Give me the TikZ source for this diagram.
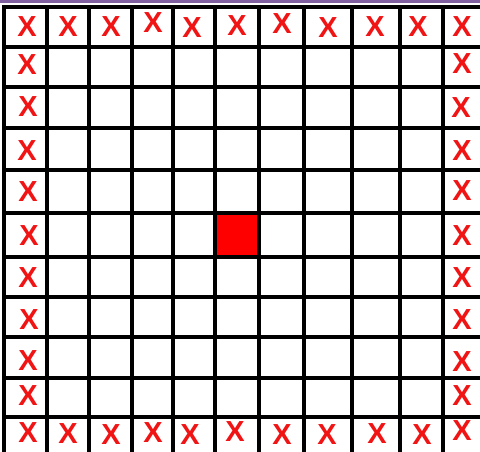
\documentclass[tikz,border=0pt]{standalone}
\usepackage{fontspec}
\setmainfont{Liberation Sans}
\definecolor{topband}{RGB}{128,96,160}
\definecolor{xred}{RGB}{240,20,20}
\begin{document}
\begin{tikzpicture}[x=1pt,y=-1pt,
  gridline/.style={black,line width=3.6pt},
  xmark/.style={text=xred,inner sep=0pt,font=\fontsize{29}{29}\selectfont\bfseries},
  target/.style={fill=red,draw=none}]
\useasboundingbox (0,0) rectangle (480,451);
\fill[white] (0,0) rectangle (480,451);
\fill[topband] (0,0) rectangle (480,2.6);
% red centre cell
\fill[target] (215,213) rectangle (259,257);
% grid
\foreach \gx in {4,47,89,132,173,215,259,304,352,400,443}
  \draw[gridline] (\gx,5.2) -- (\gx,460);
\foreach \gy in {7,47,87,128,170,213,257,297,337,378,417}
  \draw[gridline] (2.2,\gy) -- (490,\gy);
% top row
\foreach \i/\px/\py in {0/27/27,1/68/27,2/111/27,3/153/23,4/192/28,5/237/26,6/282/24,7/328/28,8/375/27,9/418/27,10/462/27}
  \node[xmark] (t\i) at (\px,\py) {X};
% bottom row
\foreach \i/\px/\py in {0/28/433,1/68/434,2/111/435,3/153/433,4/190/435,5/235/432,6/282/435,7/327/435,8/377/434,9/422/435,10/462/431}
  \node[xmark] (b\i) at (\px,\py) {X};
% left column
\foreach \i/\px/\py in {1/27/65,2/28/107,3/27/151,4/28/192,5/29/236,6/28/278,7/29/320,8/28/361,9/28/396}
  \node[xmark] (l\i) at (\px,\py) {X};
% right column
\foreach \i/\px/\py in {1/462/64,2/461/108,3/462/151,4/462/191,5/462/236,6/462/278,7/462/320,8/462/362,9/462/396}
  \node[xmark] (r\i) at (\px,\py) {X};
\end{tikzpicture}
\end{document}
